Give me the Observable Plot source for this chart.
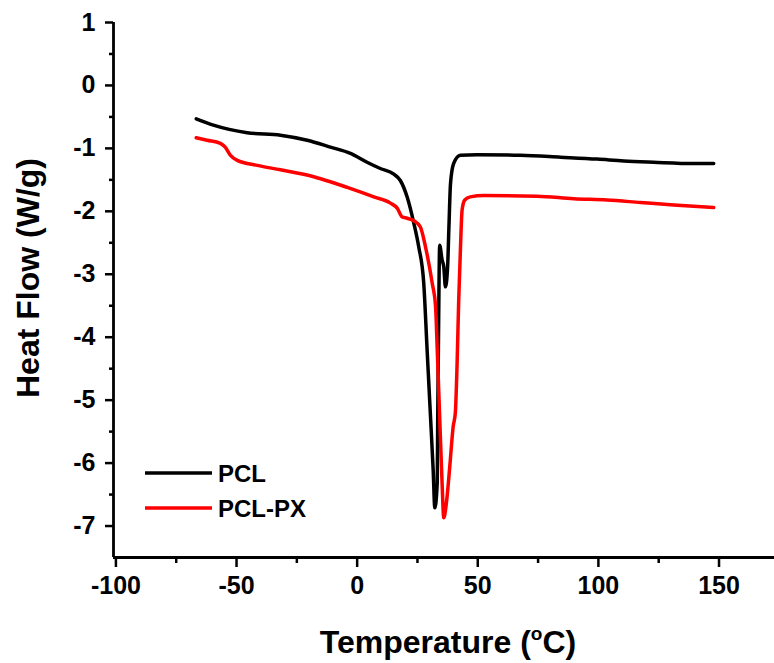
<!DOCTYPE html>
<html>
<head>
<meta charset="utf-8">
<script src="https://cdn.jsdelivr.net/npm/d3@7"></script>
<script src="https://cdn.jsdelivr.net/npm/@observablehq/plot@0.6"></script>
<style>
  html, body { margin: 0; padding: 0; background: #fff; }
  #chart { width: 774px; height: 663px; }
</style>
</head>
<body>
<div id="chart"></div>
<script>
// ---- data ----
const seriesNames = ["PCL", "PCL-PX"];
const seriesColors = ["#000000", "#ff0000"];

const pclT = [-66.7, -59.6, -45.6, -31.8, -20.7, -11.1, -2.8, 4.1, 9.6, 15.2, 17.9, 20.7, 23.5, 25.5, 27.6, 29.0, 30.4, 31.5, 32.2, 33.2, 33.4, 33.8, 34.2, 35.2, 35.9, 36.6, 37.5, 38.0, 38.7, 40.0, 42.8, 49.7, 67.7, 84.3, 99.5, 110.5, 122.9, 139.5, 147.8];
const pclHF = [-0.53, -0.63, -0.75, -0.79, -0.87, -0.98, -1.08, -1.22, -1.32, -1.41, -1.51, -1.77, -2.19, -2.56, -3.14, -4.20, -5.26, -6.10, -6.71, -6.31, -5.26, -3.67, -2.54, -2.77, -2.88, -3.20, -2.88, -2.30, -1.56, -1.24, -1.11, -1.10, -1.11, -1.14, -1.17, -1.20, -1.22, -1.24, -1.24];

const pclpxT = [-66.7, -62.2, -56.7, -54.7, -52.5, -49.7, -41.4, -31.8, -18.0, -11.1, -4.1, 6.9, 13.8, 16.6, 18.7, 20.7, 23.5, 26.2, 28.3, 31.1, 32.5, 33.2, 34.2, 35.2, 35.9, 37.0, 38.4, 39.8, 40.7, 41.4, 42.1, 42.8, 43.5, 44.6, 46.9, 52.5, 74.6, 89.8, 103.6, 117.4, 131.2, 147.8];
const pclpxHF = [-0.83, -0.87, -0.92, -0.98, -1.11, -1.19, -1.27, -1.34, -1.45, -1.53, -1.62, -1.77, -1.87, -1.95, -2.09, -2.11, -2.15, -2.25, -2.56, -3.14, -3.51, -4.20, -5.26, -6.31, -6.87, -6.63, -6.05, -5.42, -5.20, -4.46, -3.41, -2.61, -1.98, -1.82, -1.77, -1.75, -1.76, -1.80, -1.82, -1.86, -1.90, -1.94];

const xDomain = [-101, 173];
const yDomain = [-7.5, 1];
const xMajor = [-100, -50, 0, 50, 100, 150];
const xMinor = [-75, -25, 25, 75, 125];
const yMajor = [1, 0, -1, -2, -3, -4, -5, -6, -7];
const yMinor = [0.5, -0.5, -1.5, -2.5, -3.5, -4.5, -5.5, -6.5];
const xTitle = "Temperature (";
const xTitleSup = "o";
const xTitleEnd = "C)";
const yTitle = "Heat Flow (W/g)";

// ---- table ----
const pcl = pclT.map((t, i) => ({T: t, HF: pclHF[i], s: seriesNames[0]}));
const pclpx = pclpxT.map((t, i) => ({T: t, HF: pclpxHF[i], s: seriesNames[1]}));

const font = "Arial, 'Liberation Sans', sans-serif";

const chart = Plot.plot({
  width: 774,
  height: 663,
  marginLeft: 113,
  marginRight: 0,
  marginTop: 22,
  marginBottom: 106,
  style: {fontFamily: font, background: "#fff", color: "#000", overflow: "visible"},
  x: {domain: xDomain, label: null},
  y: {domain: yDomain, label: null},
  marks: [
    Plot.axisX(xMajor, {tickSize: 10, tickPadding: 9, strokeWidth: 2.5, fontSize: 25, fontWeight: "bold", label: null, tickFormat: d => String(d)}),
    Plot.axisX(xMinor, {tickSize: 6, strokeWidth: 2.5, label: null, tickFormat: () => ""}),
    Plot.axisY(yMajor, {tickSize: 8, tickPadding: 10, strokeWidth: 2.5, fontSize: 25, fontWeight: "bold", label: null, tickFormat: d => String(d)}),
    Plot.axisY(yMinor, {tickSize: 4, strokeWidth: 2.5, label: null, tickFormat: () => ""}),
    Plot.ruleX([xDomain[0]], {stroke: "#000", strokeWidth: 2.8}),
    Plot.ruleY([yDomain[0]], {stroke: "#000", strokeWidth: 2.8}),
    Plot.line(pcl, {x: "T", y: "HF", stroke: seriesColors[0], strokeWidth: 3.5, strokeLinejoin: "round", curve: "monotone-x"}),
    Plot.line(pclpx, {x: "T", y: "HF", stroke: seriesColors[1], strokeWidth: 3.5, strokeLinejoin: "round", curve: "monotone-x"})
  ]
});

document.getElementById("chart").appendChild(chart);

// ---- axis titles and legend ----
const svg = d3.select(chart);
const xt = svg.append("text")
  .attr("x", 448).attr("y", 653)
  .attr("text-anchor", "middle")
  .attr("font-family", font).attr("font-weight", "bold").attr("font-size", 32)
  .attr("fill", "#000");
xt.append("tspan").text(xTitle);
xt.append("tspan").text(xTitleSup).attr("font-size", 19).attr("dy", -13);
xt.append("tspan").text(xTitleEnd).attr("dy", 13);

svg.append("text")
  .attr("transform", "translate(39,278) rotate(-90)")
  .attr("text-anchor", "middle")
  .attr("font-family", font).attr("font-weight", "bold").attr("font-size", 32)
  .attr("fill", "#000")
  .text(yTitle);

const legend = svg.append("g");
seriesNames.forEach((name, i) => {
  const y = 473 + i * 35;
  legend.append("line")
    .attr("x1", 145).attr("x2", 212).attr("y1", y).attr("y2", y)
    .attr("stroke", seriesColors[i]).attr("stroke-width", 3.5);
  legend.append("text")
    .attr("x", 218).attr("y", y)
    .attr("dy", "0.36em")
    .attr("text-anchor", "start")
    .attr("font-family", font).attr("font-weight", "bold").attr("font-size", 24)
    .attr("fill", "#000")
    .text(name);
});
</script>
</body>
</html>
